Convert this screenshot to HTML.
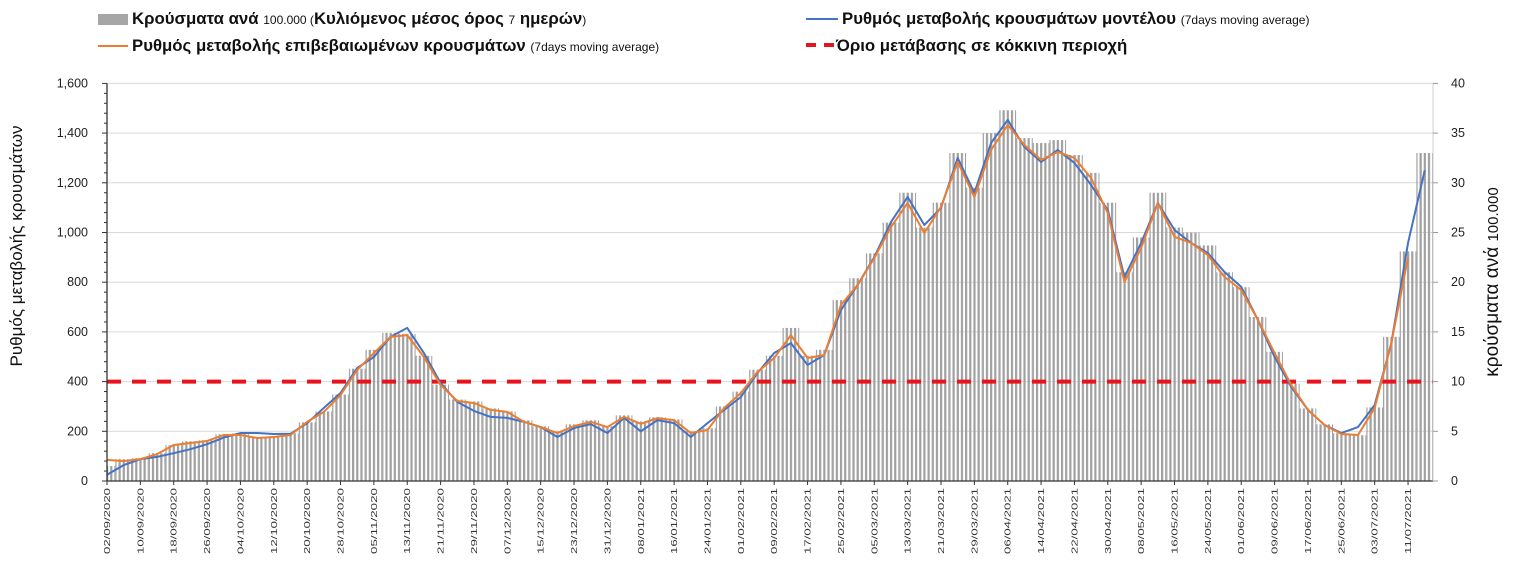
<!DOCTYPE html>
<html><head><meta charset="utf-8"><style>
body{margin:0;background:#fff;width:1516px;height:575px;overflow:hidden;font-family:"Liberation Sans",sans-serif}
.lg{position:absolute;font-size:16.8px;font-weight:bold;color:#111;white-space:nowrap}
.lg small{font-weight:normal;font-size:12px}
</style></head><body>
<div>
<div class="lg" style="left:98px;top:9px"><span style="display:inline-block;width:30px;height:11px;background:#a6a6a6;vertical-align:-1px;margin-right:4px"></span>Κρούσματα ανά <small>100.000 (</small>Κυλιόμενος μέσος όρος <small>7</small> ημερών<small>)</small></div>
<div class="lg" style="left:98px;top:36px"><span style="display:inline-block;width:30px;height:2px;background:#ed7d31;vertical-align:4px;margin-right:4px"></span>Ρυθμός μεταβολής επιβεβαιωμένων κρουσμάτων <small>(7days moving average)</small></div>
<div class="lg" style="left:806px;top:9px"><span style="display:inline-block;width:32px;height:2px;background:#4472c4;vertical-align:4px;margin-right:4px"></span>Ρυθμός μεταβολής κρουσμάτων μοντέλου <small>(7days moving average)</small></div>
<div class="lg" style="left:806px;top:36px"><span style="display:inline-block;width:10px;height:4px;background:#e8141c;vertical-align:4px;margin-right:8px"></span><span style="display:inline-block;width:10px;height:4px;background:#e8141c;vertical-align:4px;margin-right:2px"></span>Όριο μετάβασης σε κόκκινη περιοχή</div>
</div>
<svg id="c" width="1516" height="575" style="position:absolute;left:0;top:0"></svg>
<script>
const orangeVals=[85,80,88,108,145,153,161,185,185,173,177,185,238,278,346,447,515,580,587,499,386,322,314,286,278,238,217,193,221,238,217,258,230,253,245,193,205,294,354,439,495,587,495,507,708,789,897,1022,1119,998,1103,1284,1143,1332,1433,1352,1292,1324,1300,1219,1078,801,938,1119,982,958,909,821,769,648,515,386,286,225,189,185,294,555,900];
const blueVals=[25,64,88,97,112,128,148,175,193,193,189,190,233,294,354,455,499,580,616,515,394,318,282,258,254,238,217,177,213,229,193,254,200,245,233,177,233,286,338,435,515,555,467,507,688,789,901,1042,1143,1030,1099,1300,1159,1360,1453,1344,1284,1332,1280,1191,1090,821,958,1119,1010,958,917,841,781,648,499,378,286,225,193,217,306,555,958,1250];
const barVals=[1.5,2.2,2.3,2.8,3.6,4.0,4.1,4.7,4.8,4.4,4.4,4.8,5.9,7.0,8.7,11.3,13.2,14.9,14.8,12.6,9.7,8.2,8.0,7.3,7.0,6.1,5.5,5.0,5.7,6.1,5.5,6.6,6.0,6.4,6.2,5.0,5.3,7.5,9.0,11.2,12.6,15.4,12.6,13.2,18.2,20.4,22.9,26.0,29.0,25.5,28.0,33.0,29.5,35.0,37.3,34.5,34.0,34.3,32.8,31.0,28.0,21.0,24.5,29.0,25.5,25.0,23.7,21.0,19.5,16.5,13.0,9.8,7.3,5.7,4.8,4.6,7.4,14.5,23.1,33.0];
const stepDays=4;
const threshold=400;
const leftTicks=[0,200,400,600,800,1000,1200,1400,1600];
const rightTicks=[0,5,10,15,20,25,30,35,40];
const dateLabels=["02/09/2020","10/09/2020","18/09/2020","26/09/2020","04/10/2020","12/10/2020","20/10/2020","28/10/2020","05/11/2020","13/11/2020","21/11/2020","29/11/2020","07/12/2020","15/12/2020","23/12/2020","31/12/2020","08/01/2021","16/01/2021","24/01/2021","01/02/2021","09/02/2021","17/02/2021","25/02/2021","05/03/2021","13/03/2021","21/03/2021","29/03/2021","06/04/2021","14/04/2021","22/04/2021","30/04/2021","08/05/2021","16/05/2021","24/05/2021","01/06/2021","09/06/2021","17/06/2021","25/06/2021","03/07/2021","11/07/2021"];
const labelStepDays=8;

const X0=107,PX=4.17,Y0=481,YT=83.4;
const xd=d=>X0+d*PX;
const yl=v=>Y0-(v/1600)*(Y0-YT);
const yr=v=>Y0-(v/40)*(Y0-YT);
const NS="http://www.w3.org/2000/svg";
const svg=document.getElementById('c');
function mk(t,a,p){const e=document.createElementNS(NS,t);for(const k in a)e.setAttribute(k,a[k]);(p||svg).appendChild(e);return e;}

leftTicks.forEach(v=>{if(v>0){const g=mk('line',{x1:X0,x2:1433,y1:yl(v),y2:yl(v),stroke:'#d9d9d9','stroke-width':1});

}});
const defs=mk('defs',{});
const pat=mk('pattern',{id:'st',patternUnits:'userSpaceOnUse',width:PX,height:10,x:X0-1},defs);
mk('rect',{x:0,y:0,width:2.2,height:10,fill:'#a0a0a0'},pat);
barVals.forEach((v,i)=>{const d=i*stepDays;const x1=xd(Math.max(0,d-2)),x2=xd(Math.min(318,d+2));
const r=mk('rect',{x:x1,y:yr(v),width:x2-x1,height:Y0-yr(v),fill:'url(#st)'});

});
const th=mk('line',{x1:X0,x2:1433,y1:yl(threshold),y2:yl(threshold),stroke:'#e8141c','stroke-width':4,'stroke-dasharray':'14,11'});


function line(vals,col,name){const p=mk('polyline',{points:vals.map((v,i)=>xd(i*stepDays)+','+yl(v)).join(' '),fill:'none',stroke:col,'stroke-width':2,'stroke-linejoin':'round'});

}
line(blueVals,'#4472c4','model-rate-line');
line(orangeVals,'#ed7d31','confirmed-rate-line');
const la=mk('line',{x1:X0,x2:X0,y1:YT,y2:Y0,stroke:'#333','stroke-width':1.3});


mk('line',{x1:X0,x2:1433,y1:Y0,y2:Y0,stroke:'#333','stroke-width':1.3});
mk('line',{x1:1433,x2:1433,y1:YT,y2:Y0,stroke:'#d0d0d0','stroke-width':1});
for(let v=0;v<=1600;v+=40){mk('line',{x1:X0-(v%200?3:5),x2:X0,y1:yl(v),y2:yl(v),stroke:'#333','stroke-width':1});}
leftTicks.forEach(v=>{const t=mk('text',{x:88,y:yl(v)+4,'text-anchor':'end','font-size':12.5,fill:'#222'});t.textContent=v.toLocaleString('en-US');

});
rightTicks.forEach(v=>{mk('line',{x1:1433,x2:1438,y1:yr(v),y2:yr(v),stroke:'#999'});const t=mk('text',{x:1451,y:yr(v)+4,'font-size':12.5,fill:'#222'});t.textContent=v;

});
dateLabels.forEach((s,i)=>{const x=xd(i*labelStepDays);mk('line',{x1:x,x2:x,y1:Y0,y2:Y0+4,stroke:'#333'});
const t=mk('text',{transform:`translate(${x+3},${Y0+7}) rotate(-90)`,'text-anchor':'end','font-size':8.5,textLength:66,lengthAdjust:'spacingAndGlyphs',fill:'#333'});t.textContent=s;

});
const t1=mk('text',{transform:'translate(22,246) rotate(-90)','text-anchor':'middle','font-size':17,fill:'#111'});t1.textContent='Ρυθμός μεταβολής κρουσμάτων';


const t2=mk('text',{transform:'translate(1498,282) rotate(-90)','text-anchor':'middle','font-size':19,fill:'#111'});t2.innerHTML='κρούσματα ανά <tspan font-size="15">100.000</tspan>';


</script>
</body></html>
